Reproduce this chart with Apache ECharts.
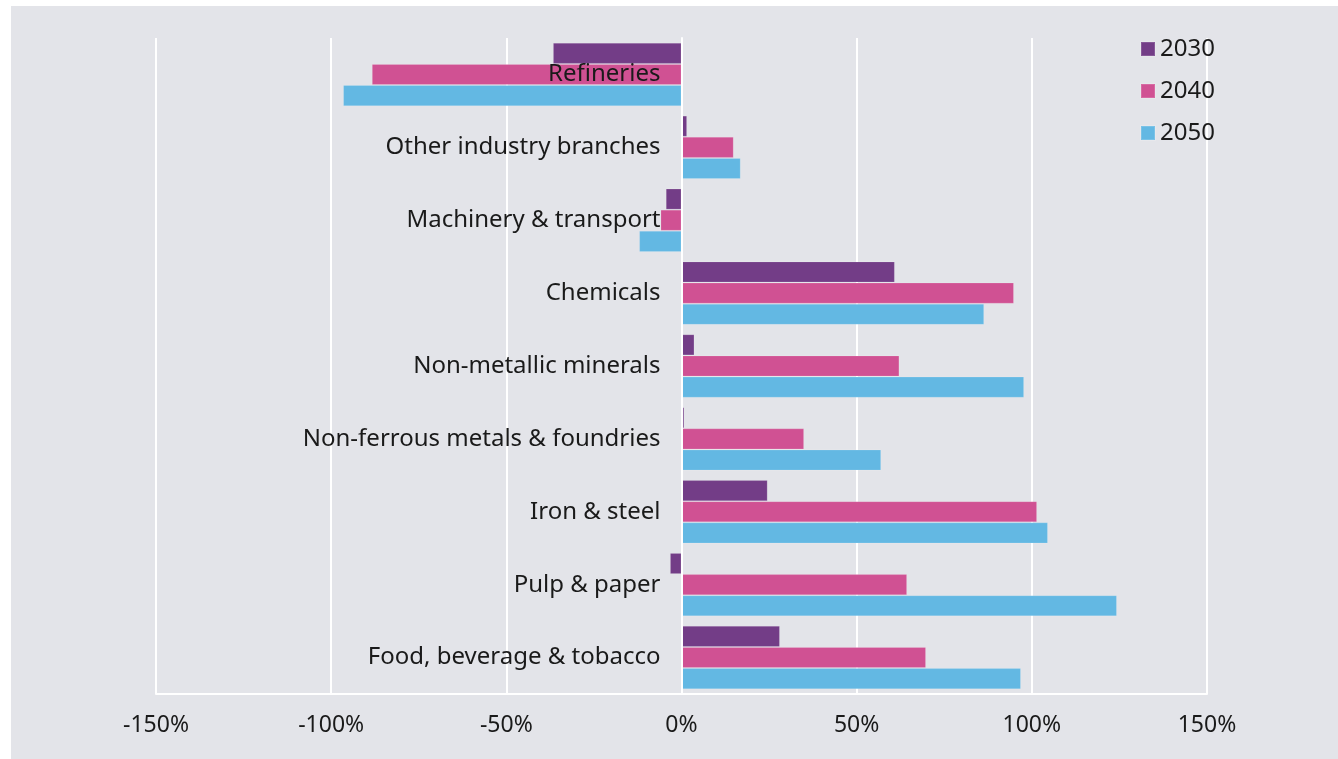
<!DOCTYPE html>
<html>
<head>
<meta charset="utf-8">
<script src="https://cdn.jsdelivr.net/npm/echarts@6/dist/echarts.min.js"></script>
<style>
html,body{margin:0;padding:0;background:#ffffff;}
#chart{position:absolute;left:11px;top:6px;width:1327px;height:753px;}
</style>
</head>
<body>
<div id="chart"></div>
<script>
// Categories listed bottom to top (ECharts category y-axis starts at the bottom)
const categories = [
  'Food, beverage & tobacco',
  'Pulp & paper',
  'Iron & steel',
  'Non-ferrous metals & foundries',
  'Non-metallic minerals',
  'Chemicals',
  'Machinery & transport',
  'Other industry branches',
  'Refineries'
];
const seriesNames = ['2030', '2040', '2050'];
const values2030 = [28.1, -3.3, 24.6, 0.8, 3.7, 60.9, -4.5, 1.6, -36.7];
const values2040 = [69.8, 64.4, 101.5, 35.0, 62.2, 94.9, -6.0, 14.9, -88.4];
const values2050 = [96.9, 124.3, 104.6, 57.0, 97.8, 86.4, -12.1, 16.9, -96.6];
const xTicks = [-150, -100, -50, 0, 50, 100, 150];

const colors = ['#733d87', '#d05193', '#63b8e3'];
const FONT = 'Noto Sans';

const chart = echarts.init(document.getElementById('chart'));
const seriesData = [values2030, values2040, values2050];

chart.setOption({
  backgroundColor: '#e3e4e9',
  animation: false,
  textStyle: {fontFamily: FONT},
  legend: {
    orient: 'vertical',
    left: 1124,
    top: 22,
    itemWidth: 14,
    itemHeight: 14,
    itemGap: 10,
    icon: 'rect',
    textStyle: {fontFamily: FONT, fontSize: 24, color: '#1a1a1a', lineHeight: 32},
    data: seriesNames
  },
  grid: {left: 145, right: 131, top: 32, bottom: 65, containLabel: false, outerBoundsMode: 'none'},
  xAxis: {
    type: 'value',
    min: xTicks[0],
    max: xTicks[xTicks.length - 1],
    interval: 50,
    axisLine: {show: true, lineStyle: {color: '#ffffff', width: 2}},
    axisTick: {show: false},
    splitLine: {show: true, lineStyle: {color: '#ffffff', width: 2}},
    axisLabel: {
      formatter: v => v + '%',
      fontFamily: FONT,
      fontSize: 23,
      color: '#1a1a1a',
      margin: 20
    }
  },
  yAxis: {
    type: 'category',
    data: categories,
    z: 10,
    axisLine: {show: true, onZero: false, lineStyle: {color: '#ffffff', width: 2}},
    axisTick: {show: false},
    splitLine: {show: false},
    axisLabel: {
      fontFamily: FONT,
      fontSize: 24,
      color: '#1a1a1a',
      margin: 21
    }
  },
  series: seriesNames.map((name, i) => ({
    name: name,
    type: 'bar',
    data: seriesData[i],
    barGap: '0%',
    barCategoryGap: '13%',
    itemStyle: {color: colors[i], borderColor: 'rgba(255,255,255,0.15)', borderWidth: 1}
  }))
});

// Place the category axis (and its labels) on the zero line using the chart's own scale
const zeroX = chart.convertToPixel({xAxisIndex: 0}, 0);
const leftX = chart.convertToPixel({xAxisIndex: 0}, xTicks[0]);
chart.setOption({yAxis: {offset: leftX - zeroX}});
</script>
</body>
</html>
